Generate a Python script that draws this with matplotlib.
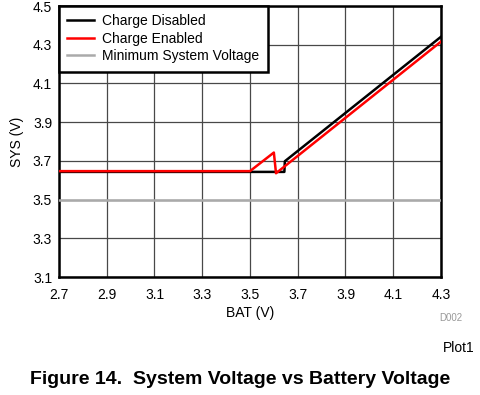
import numpy as np
import matplotlib
matplotlib.use('Agg')
import matplotlib.pyplot as plt

plt.rcParams['font.family'] = ['Liberation Sans', 'DejaVu Sans']

# Charge disabled: flat, step up near 3.645 V, then linear
bat_dis = [2.7, 3.644, 3.646, 4.3]
sys_dis = [3.643, 3.643, 3.698, 4.341]

# Charge enabled: flat, bump at 3.6 V, drop, then linear
bat_en = [2.7, 3.5, 3.6, 3.609, 4.3]
sys_en = [3.647, 3.647, 3.743, 3.636, 4.316]

vmin_x = [2.7, 4.3]
vmin_y = [3.5, 3.5]

xticks = [2.7, 2.9, 3.1, 3.3, 3.5, 3.7, 3.9, 4.1, 4.3]
yticks = [3.1, 3.3, 3.5, 3.7, 3.9, 4.1, 4.3, 4.5]

fig = plt.figure(figsize=(4.8, 3.95), dpi=100)
ax = fig.add_axes([0.1229, 0.2987, 0.7958, 0.6861])

ax.plot(bat_dis, sys_dis, color='black', lw=1.8, label='Charge Disabled', zorder=4)
ax.plot(bat_en, sys_en, color='#ff0000', lw=1.8, label='Charge Enabled', zorder=5)
ax.plot(vmin_x, vmin_y, color='#aaaaaa', lw=1.8, label='Minimum System Voltage', zorder=3)

ax.set_xlim(2.7, 4.3)
ax.set_ylim(3.1, 4.5)
ax.set_xticks(xticks)
ax.set_yticks(yticks)
ax.set_xticklabels([f'{v:.1f}' for v in xticks])
ax.set_yticklabels([f'{v:.1f}' for v in yticks])
ax.tick_params(axis='x', length=0, labelsize=10, pad=8)
ax.tick_params(axis='y', length=0, labelsize=10, pad=5)
ax.grid(True, color='#484848', lw=0.9)
for s in ax.spines.values():
    s.set_linewidth(1.8)

ax.set_xlabel('BAT (V)', fontsize=10, labelpad=3)
ax.set_ylabel('SYS (V)', fontsize=10, labelpad=6)

leg = ax.legend(loc='upper left', fontsize=10, fancybox=False, framealpha=1,
                edgecolor='black', borderaxespad=0.0, handlelength=1.9,
                handletextpad=0.6, labelspacing=0.25, borderpad=0.6)
leg.get_frame().set_linewidth(1.8)

fig.text(462 / 480, 1 - 318 / 395, 'D002', fontsize=7, color='#999999', ha='right', va='center')
fig.text(474 / 480, 1 - 348 / 395, 'Plot1', fontsize=10, ha='right', va='center')
fig.text(0.5, 1 - 379 / 395, 'Figure 14.  System Voltage vs Battery Voltage',
         fontsize=14, fontweight='bold', ha='center', va='center')

fig.savefig('out.png', dpi=100)
